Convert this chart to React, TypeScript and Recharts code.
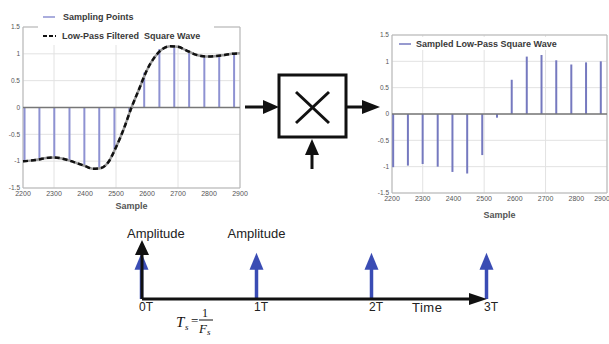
import React from 'react'
import {
  ComposedChart,
  BarChart,
  Bar,
  Line,
  XAxis,
  YAxis,
  CartesianGrid,
  ReferenceLine,
  ReferenceArea,
  ReferenceDot,
} from 'recharts'

const stemX = [2205, 2253, 2301, 2350, 2398, 2446, 2495, 2543, 2591, 2640, 2688, 2736, 2785, 2833, 2881]
const stemY = [-1.01, -0.98, -0.95, -1.0, -1.1, -1.13, -0.78, -0.07, 0.65, 1.09, 1.12, 1.02, 0.94, 0.98, 1.0]

// low-pass filtered square wave (dashed curve)
const curveX = [2200, 2225, 2250, 2275, 2300, 2325, 2350, 2375, 2400, 2425, 2450, 2475, 2500, 2525, 2550, 2575, 2600, 2625, 2650, 2675, 2700, 2725, 2750, 2775, 2800, 2825, 2850, 2875, 2900]
const curveY = [-1.0, -0.99, -0.97, -0.94, -0.93, -0.95, -0.99, -1.04, -1.09, -1.14, -1.13, -1.02, -0.74, -0.4, 0.0, 0.35, 0.7, 0.94, 1.09, 1.14, 1.13, 1.07, 1.0, 0.96, 0.95, 0.96, 0.98, 1.0, 1.01]

const sampleTicks = [2200, 2300, 2400, 2500, 2600, 2700, 2800, 2900]
const ampTicks = [-1.5, -1, -0.5, 0, 0.5, 1, 1.5]

// sampling impulse train
const timeX = [0, 1, 2, 3]
const timeAmp = [1, 1, 1, 1]
const timeTickLabels = ['0T', '1T', '2T', '3T']
const impulseLabels = ['', 'Amplitude', '', '']

const FONT = "'Liberation Sans', Arial, sans-serif"
const STEM_L = '#8e92d2'
const STEM_R = '#7579bf'
const IMPULSE = '#3a4cb4'

const mergedRows = (() => {
  const rows: { x: number; curve?: number; stem?: number }[] = []
  curveX.forEach((x, i) => rows.push({ x, curve: curveY[i] }))
  stemX.forEach((x, i) => rows.push({ x, stem: stemY[i] }))
  return rows.sort((a, b) => a.x - b.x)
})()

const sampledRows = stemX.map((x, i) => ({ x, stem: stemY[i] }))
const timeRows = timeX.map((t, i) => ({ t, amp: timeAmp[i], label: impulseLabels[i] }))

const tickY = { fontSize: 6.5, fill: '#555', fontFamily: FONT }
const tickX = { fontSize: 7, fill: '#555', fontFamily: FONT }

function Stem(color: string) {
  return (props: any) => {
    const { x, y, width, height } = props
    const cx = x + width / 2
    return <line x1={cx} x2={cx} y1={y} y2={y + height} stroke={color} strokeWidth={2} />
  }
}

function ImpulseArrow(props: any) {
  const { x, y, width, height, payload } = props
  const cx = x + width / 2
  const base = y + height
  return (
    <g>
      <line x1={cx} x2={cx} y1={base} y2={y + 14} stroke={IMPULSE} strokeWidth={3.5} />
      <polygon points={`${cx - 7},${y + 17} ${cx + 7},${y + 17} ${cx},${y}`} fill={IMPULSE} />
      {payload.label ? (
        <text x={cx} y={y - 15} textAnchor="middle" fontSize={13} fill="#222" fontFamily={FONT}>
          {payload.label}
        </text>
      ) : null}
    </g>
  )
}

function TimeAxisLine(props: any) {
  const { x1, y1, x2 } = props
  return (
    <g>
      <line x1={x1} x2={x2 - 14} y1={y1} y2={y1} stroke="#111" strokeWidth={3} />
      <polygon points={`${x2 - 18},${y1 - 6} ${x2 - 18},${y1 + 6} ${x2},${y1}`} fill="#111" />
    </g>
  )
}

function AmpAxisLine(props: any) {
  const { x1, y1, y2 } = props
  const top = Math.min(y1, y2)
  const bottom = Math.max(y1, y2)
  return (
    <g>
      <line x1={x1} x2={x1} y1={bottom} y2={top + 12} stroke="#111" strokeWidth={3} />
      <polygon points={`${x1 - 7},${top + 15} ${x1 + 7},${top + 15} ${x1},${top}`} fill="#111" />
      <text x={x1 - 15} y={top - 2} fontSize={13} fill="#222" fontFamily={FONT}>
        Amplitude
      </text>
    </g>
  )
}

function TimeLabel(props: any) {
  const { cx, cy } = props
  return (
    <text x={cx} y={cy + 13} textAnchor="middle" fontSize={13} letterSpacing={0.5} fill="#222" fontFamily={FONT}>
      Time
    </text>
  )
}

const fmtAmp = (v: number) => String(v)

export default function App() {
  return (
    <div style={{ position: 'absolute', left: 0, top: 0, width: 609, height: 344, background: '#fff', fontFamily: FONT }}>
      {/* left: filtered wave with sampling points */}
      <div style={{ position: 'absolute', left: 0, top: 0 }}>
        <ComposedChart width={250} height={220} data={mergedRows} margin={{ top: 27, right: 10, left: 0, bottom: 0 }}>
          <CartesianGrid stroke="#e2e2e2" />
          <XAxis
            dataKey="x"
            type="number"
            domain={[2200, 2900]}
            ticks={sampleTicks}
            tick={tickX}
            tickLine={false}
            axisLine={false}
            tickSize={0}
            tickMargin={3}
            height={32}
            label={{ value: 'Sample', position: 'insideBottom', offset: 11, fontSize: 9, fontWeight: 700, fill: '#555' }}
          />
          <YAxis
            type="number"
            domain={[-1.5, 1.5]}
            ticks={ampTicks}
            tickFormatter={fmtAmp}
            tick={tickY}
            tickLine={false}
            axisLine={false}
            tickSize={0}
            tickMargin={3}
            width={23}
          />
          <ReferenceArea x1={2200} x2={2900} y1={-1.5} y2={1.5} fill="none" stroke="#b5b5b5" />
          <ReferenceLine y={0} stroke="#777" strokeWidth={1.5} />
          <Bar dataKey="stem" barSize={2} shape={Stem(STEM_L)} isAnimationActive={false} />
          <Line dataKey="curve" type="monotone" stroke="#999" strokeWidth={2.5} dot={false} connectNulls isAnimationActive={false} />
          <Line dataKey="curve" type="monotone" stroke="#111" strokeWidth={2.5} strokeDasharray="5 3" dot={false} connectNulls isAnimationActive={false} />
        </ComposedChart>
      </div>
      <div style={{ position: 'absolute', left: 38, top: 9, width: 176, height: 36, background: '#fff', fontSize: 9, fontWeight: 700, color: '#3a3a3a' }}>
        <div style={{ position: 'absolute', left: 5, top: 3, display: 'flex', alignItems: 'center' }}>
          <svg width={14} height={4}><line x1={0} x2={12} y1={2} y2={2} stroke={STEM_L} strokeWidth={1.5} /></svg>
          <span style={{ marginLeft: 6 }}>Sampling Points</span>
        </div>
        <div style={{ position: 'absolute', left: 5, top: 22, display: 'flex', alignItems: 'center', whiteSpace: 'pre' }}>
          <svg width={14} height={4}><line x1={0} x2={13} y1={2} y2={2} stroke="#111" strokeWidth={2} strokeDasharray="4 2" /></svg>
          <span style={{ marginLeft: 5 }}>Low-Pass Filtered  Square Wave</span>
        </div>
      </div>

      {/* middle: multiplier block */}
      <svg style={{ position: 'absolute', left: 0, top: 0 }} width={609} height={344}>
        <rect x={279} y={75} width={67} height={62} fill="#fff" stroke="#111" strokeWidth={3} />
        <line x1={296} y1={92} x2={329} y2={123} stroke="#111" strokeWidth={3} />
        <line x1={329} y1={92} x2={296} y2={123} stroke="#111" strokeWidth={3} />
        <line x1={245} y1={107} x2={266} y2={107} stroke="#111" strokeWidth={3} />
        <polygon points="263,100 263,114 279,107" fill="#111" />
        <line x1={346} y1={107} x2={364} y2={107} stroke="#111" strokeWidth={3} />
        <polygon points="362,100 362,114 380,107" fill="#111" />
        <line x1={312} y1={169} x2={312} y2={152} stroke="#111" strokeWidth={3} />
        <polygon points="305,155 319,155 312,139" fill="#111" />
      </svg>

      {/* right: sampled sequence */}
      <div style={{ position: 'absolute', left: 360, top: 0 }}>
        <BarChart width={249} height={230} data={sampledRows} margin={{ top: 35, right: 2, left: 0, bottom: 0 }}>
          <CartesianGrid stroke="#e2e2e2" />
          <XAxis
            dataKey="x"
            type="number"
            domain={[2200, 2900]}
            ticks={sampleTicks}
            tick={tickX}
            tickLine={false}
            axisLine={false}
            tickSize={0}
            tickMargin={3}
            height={37}
            label={{ value: 'Sample', position: 'insideBottom', offset: 12, fontSize: 9, fontWeight: 700, fill: '#555' }}
          />
          <YAxis
            type="number"
            domain={[-1.5, 1.5]}
            ticks={ampTicks}
            tickFormatter={fmtAmp}
            tick={tickY}
            tickLine={false}
            axisLine={false}
            tickSize={0}
            tickMargin={3}
            width={32}
          />
          <ReferenceArea x1={2200} x2={2900} y1={-1.5} y2={1.5} fill="none" stroke="#b5b5b5" />
          <ReferenceLine y={0} stroke="#777" strokeWidth={1.5} />
          <Bar dataKey="stem" barSize={2} shape={Stem(STEM_R)} isAnimationActive={false} />
        </BarChart>
      </div>
      <div style={{ position: 'absolute', left: 396, top: 37, width: 172, height: 13, background: '#fff', fontSize: 9, fontWeight: 700, color: '#3a3a3a', display: 'flex', alignItems: 'center' }}>
        <svg width={16} height={4}><line x1={3} x2={15} y1={2} y2={2} stroke={STEM_R} strokeWidth={1.5} /></svg>
        <span style={{ marginLeft: 4 }}>Sampled Low-Pass Square Wave</span>
      </div>

      {/* bottom: impulse train on the time axis */}
      <div style={{ position: 'absolute', left: 0, top: 220 }}>
        <ComposedChart width={609} height={124} data={timeRows} margin={{ top: 19, right: 122, left: 142, bottom: 25 }}>
          <XAxis
            dataKey="t"
            type="number"
            domain={[0, 3]}
            ticks={timeX}
            tickFormatter={(v: number) => timeTickLabels[v]}
            tick={{ fontSize: 12, fill: '#222', fontFamily: FONT, dx: 4 }}
            tickLine={false}
            axisLine={false}
            tickSize={0}
            tickMargin={3}
            height={20}
          />
          <YAxis type="number" domain={[0, 1.3]} hide width={0} />
          <ReferenceLine segment={[{ x: 0, y: 0 }, { x: 0, y: 1.28 }]} shape={AmpAxisLine} />
          <ReferenceLine segment={[{ x: 0, y: 0 }, { x: 3, y: 0 }]} shape={TimeAxisLine} />
          <Bar dataKey="amp" barSize={14} shape={ImpulseArrow} isAnimationActive={false} />
          <ReferenceDot x={2.48} y={0} r={0} shape={TimeLabel} />
        </ComposedChart>
      </div>

      {/* Ts = 1 / Fs */}
      <svg style={{ position: 'absolute', left: 0, top: 0 }} width={609} height={344} pointerEvents="none">
        <g fontFamily="'Liberation Serif', 'DejaVu Serif', serif" fill="#111">
          <text x={176} y={327} fontSize={15} fontStyle="italic">T</text>
          <text x={185} y={330} fontSize={9} fontStyle="italic">s</text>
          <text x={191} y={325} fontSize={13}>=</text>
          <text x={202} y={317} fontSize={12}>1</text>
          <line x1={199} x2={213} y1={320} y2={320} stroke="#111" strokeWidth={1} />
          <text x={199} y={333} fontSize={13} fontStyle="italic">F</text>
          <text x={207} y={335} fontSize={9} fontStyle="italic">s</text>
        </g>
      </svg>
    </div>
  )
}
